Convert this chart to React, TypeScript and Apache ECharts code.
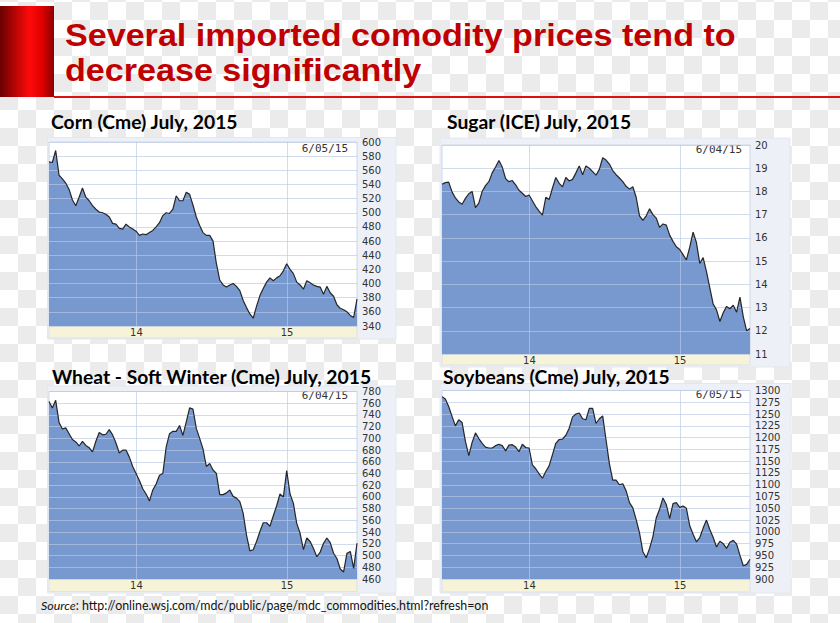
import React, { useEffect, useRef } from "react";
import * as echarts from "echarts";

// Sampling of the price series: one value every ~8 days starting June 2013
const T_START = 2013.42;
const T_STEP = 1 / 45;
const YEAR_TICKS = [2014, 2015];

const cornValues = [
  572, 571, 588, 553, 548, 542, 533, 518, 510, 522,
  535, 522, 517, 510, 505, 501, 500, 498, 494, 485,
  484, 478, 477, 484, 480, 477, 474, 468, 470, 469,
  472, 475, 480, 486, 496, 500, 499, 505, 524, 517,
  517, 529, 526, 511, 494, 482, 472, 468, 468, 460,
  428, 405, 398, 395, 398, 400, 396, 390, 376, 366,
  357, 351, 368, 383, 393, 402, 408, 404, 408, 411,
  418, 428, 420, 414, 402, 398, 392, 404, 401, 398,
  396, 395, 385, 396, 387, 382, 370, 365, 363, 360,
  355, 352, 378,
];

const sugarValues = [
  18.31, 18.38, 18.4, 17.98, 17.72, 17.55, 17.45, 17.7, 17.9, 18.0,
  17.3, 17.5, 18.0, 18.25, 18.42, 18.8, 19.05, 19.33, 19.05, 18.55,
  18.42, 18.47, 18.28, 18.05, 17.92, 17.78, 17.85, 17.6, 17.35, 17.15,
  16.98, 17.75, 17.65, 18.15, 18.6, 18.35, 18.2, 18.6, 18.45, 18.52,
  18.8, 19.1, 18.72, 19.1, 19.0, 18.85, 18.7, 18.95, 19.45, 19.35,
  19.18, 18.9, 18.72, 18.58, 18.42, 18.22, 18.1, 18.2, 17.75, 16.95,
  16.75, 16.95, 17.25, 17.0, 16.85, 16.45, 16.6, 16.55, 16.12, 15.85,
  15.62, 15.5, 15.28, 15.05, 15.6, 16.25, 15.8, 14.9, 15.15, 14.55,
  13.85, 13.15, 12.9, 12.4, 12.78, 13.05, 12.95, 13.1, 12.8, 13.45,
  12.6, 12.0, 12.1,
];

const wheatValues = [
  763, 752, 765, 727, 716, 718, 708, 698, 694, 687,
  695, 688, 684, 677, 695, 710, 706, 707, 715, 706,
  692, 675, 680, 680, 668, 652, 640, 628, 614, 605,
  593, 612, 622, 637, 640, 685, 708, 712, 712, 722,
  705, 728, 752, 750, 717, 700, 682, 652, 657, 646,
  640, 604, 604, 607, 612, 601, 598, 592, 572, 535,
  508, 510, 524, 541, 556, 556, 550, 568, 585, 605,
  600, 645, 605, 589, 555, 538, 510, 530, 524, 512,
  498, 506, 521, 530, 522, 504, 495, 477, 472, 504,
  507, 478, 521,
];

const soyValues = [
  1287, 1282, 1266, 1245, 1225, 1238, 1232, 1192, 1162, 1190,
  1210, 1198, 1188, 1180, 1178, 1178, 1183, 1186, 1183, 1172,
  1184, 1185, 1180, 1170, 1186, 1179, 1178, 1142, 1134, 1123,
  1114, 1128, 1140, 1164, 1188, 1196, 1197, 1205, 1220, 1244,
  1250, 1252, 1240, 1238, 1262, 1262, 1230, 1240, 1246, 1195,
  1145, 1110, 1110, 1100, 1102, 1087, 1062, 1051, 1026, 998,
  958, 945, 965, 990, 1030, 1048, 1072, 1058, 1028, 1060,
  1062, 1052, 1055, 1050, 1013, 995, 979, 988, 1008, 1025,
  1005, 988, 968, 980, 975, 965, 978, 982, 974, 950,
  928, 931, 942,
];

const chartTitles = [
  "Corn (Cme) July, 2015",
  "Sugar (ICE) July, 2015",
  "Wheat - Soft Winter (Cme) July, 2015",
  "Soybeans (Cme) July, 2015",
];
const chartDates = ["6/05/15", "6/04/15", "6/04/15", "6/05/15"];
const chartValues = [cornValues, sugarValues, wheatValues, soyValues];
const yMin = [340, 11, 460, 900];
const yMax = [600, 20, 780, 1300];
const yStep = [20, 1, 20, 25];

const MAIN_TITLE_1 = "Several imported comodity prices tend to";
const MAIN_TITLE_2 = "decrease significantly";
const SOURCE_URL = "http://online.wsj.com/mdc/public/page/mdc_commodities.html?refresh=on";

// Layout (positions only)
const LAYOUT = [
  { plot: { x: 49, y: 142, w: 308, h: 184 }, band: 12, panel: { x: 47.5, y: 137.5, r: 396, b: 339 }, title: [51, 121], date: [348, 148] },
  { plot: { x: 442, y: 145, w: 308, h: 209 }, band: 11, panel: { x: 440, y: 138, r: 790, b: 367 }, title: [447, 121], date: [742, 149] },
  { plot: { x: 49, y: 391.5, w: 308, h: 187.5 }, band: 12.5, panel: { x: 47.5, y: 386, r: 396, b: 593 }, title: [52, 376], date: [348, 395] },
  { plot: { x: 442, y: 390.5, w: 308, h: 188.5 }, band: 13, panel: { x: 440, y: 383.5, r: 791, b: 593 }, title: [443, 376.5], date: [742, 394] },
];

const FILL = "#7799d0";
const GRID_LINE = "rgba(188,202,226,0.65)";
const AXIS_FONT = "DejaVu Sans";
const TITLE_FONT = "Lato";
const HEAD_FONT = "'Liberation Sans'";

function buildOption() {
  const xMax = T_START + (cornValues.length - 1) * T_STEP;
  const grids: any[] = [];
  const xAxes: any[] = [];
  const yAxes: any[] = [];
  const series: any[] = [];
  const panelEls: any[] = [];
  const textEls: any[] = [];

  LAYOUT.forEach((L, i) => {
    const p = L.plot;
    grids.push({ left: p.x, top: p.y, width: p.w, height: p.h, show: false });
    xAxes.push({
      type: "value",
      gridIndex: i,
      min: T_START,
      max: xMax,
      z: 3,
      axisLine: { show: false },
      axisTick: { show: false, customValues: YEAR_TICKS },
      axisLabel: {
        customValues: YEAR_TICKS,
        formatter: (v: number) => String(Math.round(v)).slice(2),
        margin: 1,
        fontSize: 10,
        fontFamily: AXIS_FONT,
        color: "#333",
      },
      splitLine: { show: true, lineStyle: { color: GRID_LINE, width: 1 } },
    });
    yAxes.push({
      type: "value",
      gridIndex: i,
      position: "right",
      min: yMin[i],
      max: yMax[i],
      interval: yStep[i],
      z: 3,
      axisLine: { show: false },
      axisTick: { show: false },
      axisLabel: {
        margin: 5,
        fontSize: 10,
        fontFamily: AXIS_FONT,
        color: "#333",
        formatter: (v: number) => String(v),
      },
      splitLine: { show: true, lineStyle: { color: GRID_LINE, width: 1 } },
    });
    const data = chartValues[i].map((v, k) => [T_START + k * T_STEP, v]);
    series.push({
      type: "line",
      xAxisIndex: i,
      yAxisIndex: i,
      data,
      symbol: "none",
      silent: true,
      z: 2,
      lineStyle: { width: 0, opacity: 0 },
      areaStyle: { color: FILL, opacity: 1, origin: "start" },
    });
    series.push({
      type: "line",
      xAxisIndex: i,
      yAxisIndex: i,
      data,
      symbol: "none",
      silent: true,
      z: 4,
      lineStyle: { color: "#262626", width: 1.2 },
    });

    const P = L.panel;
    panelEls.push({
      type: "rect",
      shape: { x: P.x, y: P.y, width: P.r - P.x, height: P.b - P.y },
      style: { fill: "#edf1f7", stroke: "#e2e8f1", lineWidth: 1 },
      silent: true,
    });
    panelEls.push({
      type: "rect",
      shape: { x: p.x, y: p.y, width: p.w, height: p.h },
      style: { fill: "#ffffff", stroke: "#cdd6e5", lineWidth: 1 },
      silent: true,
    });
    panelEls.push({
      type: "rect",
      shape: { x: p.x, y: p.y + p.h, width: p.w, height: L.band },
      style: { fill: "#f6f3d8", stroke: "#d8dde8", lineWidth: 0.8 },
      silent: true,
    });
    panelEls.push({
      type: "text",
      x: L.date[0],
      y: L.date[1],
      silent: true,
      style: {
        text: chartDates[i],
        fill: "#333",
        font: "11px 'DejaVu Sans Mono'",
        align: "right",
        textAlign: "right",
        verticalAlign: "middle",
        textVerticalAlign: "middle",
      },
    });
    textEls.push({
      type: "text",
      x: L.title[0],
      y: L.title[1],
      silent: true,
      style: {
        text: chartTitles[i],
        fill: "#000",
        font: `bold 19.3px ${TITLE_FONT}`,
        align: "left",
        verticalAlign: "middle",
        textVerticalAlign: "middle",
      },
    });
  });

  const header: any[] = [
    {
      type: "rect",
      shape: { x: 0, y: 6, width: 54, height: 91 },
      silent: true,
      style: {
        fill: new echarts.graphic.LinearGradient(0, 0, 1, 0, [
          { offset: 0, color: "#6a0000" },
          { offset: 0.55, color: "#ff0a0a" },
          { offset: 0.78, color: "#de0000" },
          { offset: 1, color: "#8a0000" },
        ]),
      },
    },
    {
      type: "rect",
      shape: { x: 54, y: 96, width: 786, height: 2 },
      silent: true,
      style: { fill: "#e01010" },
    },
    {
      type: "text",
      x: 65,
      y: 36,
      scaleX: 1.1,
      silent: true,
      style: {
        text: MAIN_TITLE_1,
        fill: "#c00000",
        font: `bold 31px ${HEAD_FONT}`,
        verticalAlign: "middle",
        textVerticalAlign: "middle",
      },
    },
    {
      type: "text",
      x: 65,
      y: 71,
      scaleX: 1.1,
      silent: true,
      style: {
        text: MAIN_TITLE_2,
        fill: "#c00000",
        font: `bold 31px ${HEAD_FONT}`,
        verticalAlign: "middle",
        textVerticalAlign: "middle",
      },
    },
  ];

  const source = {
    type: "text",
    x: 41,
    y: 605,
    silent: true,
    style: {
      text: "{i|Source}: " + SOURCE_URL,
      fill: "#111",
      fontSize: 12.4,
      fontFamily: TITLE_FONT,
      verticalAlign: "middle",
      textVerticalAlign: "middle",
      rich: {
        i: { fontStyle: "italic", fontSize: 12.4, fontFamily: TITLE_FONT, fill: "#111" },
      },
    },
  };

  return {
    animation: false,
    backgroundColor: "transparent",
    grid: grids,
    xAxis: xAxes,
    yAxis: yAxes,
    series,
    graphic: { elements: [...header, ...panelEls, ...textEls, source] },
  };
}

export default function App() {
  const ref = useRef<HTMLDivElement>(null);
  useEffect(() => {
    if (!ref.current) return;
    const chart = echarts.init(ref.current, null, { renderer: "svg", width: 840, height: 623 });
    chart.setOption(buildOption());
    return () => chart.dispose();
  }, []);
  return (
    <div
      ref={ref}
      style={{
        position: "fixed",
        left: 0,
        top: 0,
        width: 840,
        height: 623,
        backgroundColor: "#ffffff",
        backgroundImage: "conic-gradient(#ebebeb 25%, #ffffff 0 50%, #ebebeb 0 75%, #ffffff 0)",
        backgroundSize: "36px 36px",
        backgroundPosition: "0px 2px",
      }}
    />
  );
}
